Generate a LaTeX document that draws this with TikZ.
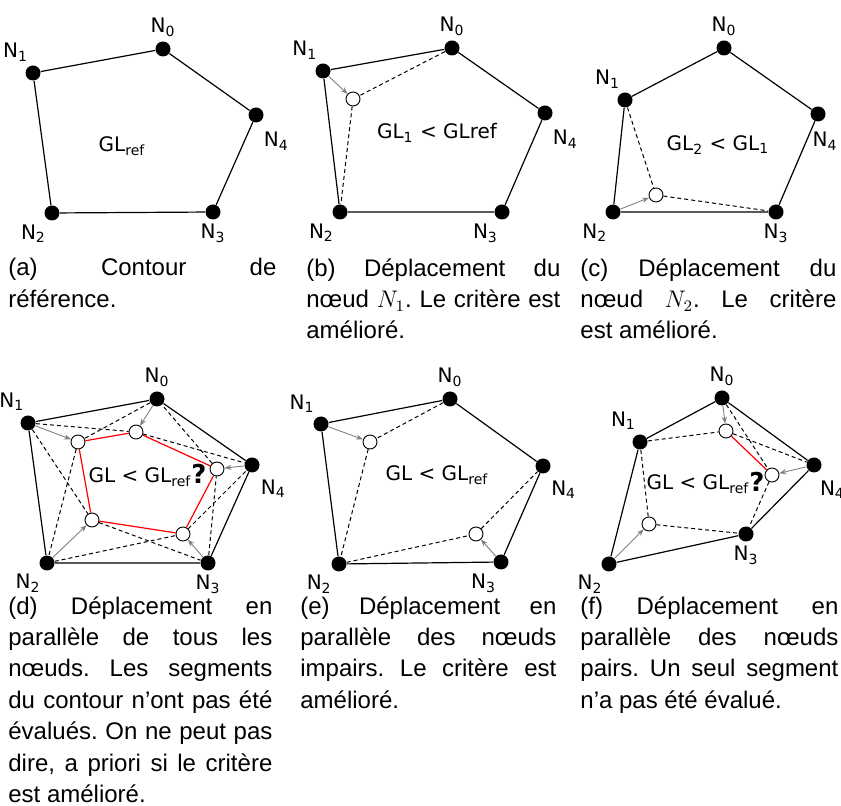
\documentclass[tikz,border=0pt]{standalone}
\usepackage{fontspec}
\setmainfont{Liberation Sans}
\newfontfamily\labelfont{DejaVu Sans}
\usetikzlibrary{arrows.meta,positioning}

\newcommand{\nd}[1]{N\textsubscript{#1}}
\newcommand{\captsize}{\fontsize{12}{15.7}\selectfont\frenchspacing}

\tikzset{
  dot/.style={circle, fill=black, minimum size=7.5pt, inner sep=0pt},
  hole/.style={circle, draw, fill=white, minimum size=7pt, inner sep=0pt, line width=0.45pt},
  lbl/.style={font=\labelfont\fontsize{10}{12}\selectfont, inner sep=1pt},
  quest/.style={font=\labelfont\bfseries\fontsize{13}{14}\selectfont, inner sep=0pt},
  contour/.style={line width=0.6pt},
  trial/.style={line width=0.5pt, dash pattern=on 2pt off 1.5pt},
  redseg/.style={line width=0.6pt, red},
  move/.style={gray, line width=0.45pt, -{Stealth[length=3.5pt,width=2.6pt]}},
  capt/.style={font=\captsize, align=justify, anchor=north west, inner sep=0pt},
  label distance=1pt
}

\begin{document}
\begin{tikzpicture}[x=0.5pt, y=-0.5pt]
  \useasboundingbox (0,0) rectangle (841,806);

  % (a) contour de reference
  \node[dot, label={[lbl]90:\nd{0}}] (a0) at (163,49) {};
  \node[dot, label={[lbl]105:\nd{1}}] (a1) at (33,73) {};
  \node[dot, label={[lbl]248:\nd{2}}] (a2) at (52,213) {};
  \node[dot, label={[lbl]270:\nd{3}}] (a3) at (213,212) {};
  \node[dot, label={[lbl,label distance=4pt]-70:\nd{4}}] (a4) at (256,115) {};
  \draw[contour] (a0) -- (a1) -- (a2) -- (a3) -- (a4) -- (a0);
  \node[lbl] (aGL) at (122,146) {GL\textsubscript{ref}};

  % (b) deplacement de N1
  \node[dot, label={[lbl]90:\nd{0}}] (b0) at (452,48) {};
  \node[dot, label={[lbl]110:\nd{1}}] (b1) at (323,71) {};
  \node[dot, label={[lbl]248:\nd{2}}] (b2) at (340,212) {};
  \node[dot, label={[lbl]260:\nd{3}}] (b3) at (502,212) {};
  \node[dot, label={[lbl,label distance=4pt]-70:\nd{4}}] (b4) at (545,113) {};
  \node[hole] (bm1) at (353,99) {};
  \draw[contour] (b0) -- (b1) -- (b2) -- (b3) -- (b4) -- (b0);
  \draw[trial] (b0) -- (bm1) -- (b2);
  \draw[move] (b1) -- (bm1);
  \node[lbl] (bGL) at (437,133) {GL\textsubscript{1} < GLref};

  % (c) deplacement de N2
  \node[dot, label={[lbl]90:\nd{0}}] (c0) at (724,48) {};
  \node[dot, label={[lbl]105:\nd{1}}] (c1) at (625,100) {};
  \node[dot, label={[lbl]250:\nd{2}}] (c2) at (613,212) {};
  \node[dot, label={[lbl]270:\nd{3}}] (c3) at (776,212) {};
  \node[dot, label={[lbl,label distance=4pt,xshift=3.5pt]below:\nd{4}}] (c4) at (818,114) {};
  \node[hole] (cm2) at (656,195) {};
  \draw[contour] (c0) -- (c1) -- (c2) -- (c3) -- (c4) -- (c0);
  \draw[trial] (c1) -- (cm2) -- (c3);
  \draw[move] (c2) -- (cm2);
  \node[lbl] (cGL) at (718,145) {GL\textsubscript{2} < GL\textsubscript{1}};

  % (d) tous les noeuds en parallele
  \node[dot, label={[lbl]90:\nd{0}}] (d0) at (157,399) {};
  \node[dot, label={[lbl]98:\nd{1}}] (d1) at (28,423) {};
  \node[dot, label={[lbl]245:\nd{2}}] (d2) at (47,563) {};
  \node[dot, label={[lbl]270:\nd{3}}] (d3) at (208,563) {};
  \node[dot, label={[lbl,label distance=3pt]-62:\nd{4}}] (d4) at (252,465) {};
  \node[hole] (dm0) at (136,432) {};
  \node[hole] (dm1) at (78,442) {};
  \node[hole] (dm2) at (92,520) {};
  \node[hole] (dm3) at (183,534) {};
  \node[hole] (dm4) at (217,469) {};
  \draw[contour] (d0) -- (d1) -- (d2) -- (d3) -- (d4) -- (d0);
  \foreach \i/\p/\n in {0/1/4, 1/0/2, 2/1/3, 3/2/4, 4/3/0} {
    \draw[trial] (d\p) -- (dm\i) -- (d\n);
    \draw[move] (d\i) -- (dm\i);
  }
  \draw[redseg] (dm0) -- (dm1) -- (dm2) -- (dm3) -- (dm4) -- (dm0);
  \node[lbl] (dGL) at (140,477) {GL < GL\textsubscript{ref}};
  \node[quest] (dq) at (199,474) {?};

  % (e) noeuds impairs
  \node[dot, label={[lbl]90:\nd{0}}] (e0) at (450,399) {};
  \node[dot, label={[lbl]115:\nd{1}}] (e1) at (321,424) {};
  \node[dot, label={[lbl]240:\nd{2}}] (e2) at (339,564) {};
  \node[dot, label={[lbl]255:\nd{3}}] (e3) at (501,562) {};
  \node[dot, label={[lbl,label distance=3pt]-65:\nd{4}}] (e4) at (543,466) {};
  \node[hole] (em1) at (370,442) {};
  \node[hole] (em3) at (476,534) {};
  \draw[contour] (e0) -- (e1) -- (e2) -- (e3) -- (e4) -- (e0);
  \draw[trial] (e0) -- (em1) -- (e2);
  \draw[trial] (e2) -- (em3) -- (e4);
  \draw[move] (e1) -- (em1);
  \draw[move] (e3) -- (em3);
  \node[lbl] (eGL) at (437,475) {GL < GL\textsubscript{ref}};

  % (f) noeuds pairs
  \node[dot, label={[lbl]90:\nd{0}}] (f0) at (722,398) {};
  \node[dot, label={[lbl]100:\nd{1}}] (f1) at (640,442) {};
  \node[dot, label={[lbl]245:\nd{2}}] (f2) at (609,564) {};
  \node[dot, label={[lbl]270:\nd{3}}] (f3) at (746,534) {};
  \node[dot, label={[lbl,label distance=3pt]-75:\nd{4}}] (f4) at (814,465) {};
  \node[hole] (fm0) at (726,431) {};
  \node[hole] (fm2) at (649,524) {};
  \node[hole] (fm4) at (772,475) {};
  \draw[contour] (f0) -- (f1) -- (f2) -- (f3) -- (f4) -- (f0);
  \draw[trial] (f1) -- (fm0) -- (f4);
  \draw[trial] (f0) -- (fm4) -- (f3);
  \draw[trial] (f1) -- (fm2) -- (f3);
  \foreach \i in {0,2,4}
    \draw[move] (f\i) -- (fm\i);
  \draw[redseg] (fm0) -- (fm4);
  \node[lbl] (fGL) at (698,484) {GL < GL\textsubscript{ref}};
  \node[quest] (fq) at (757,482) {?};

  % legendes
  \node[capt, text width=134pt] (capa) at (8,258)
    {(a) Contour de\linebreak référence.};
  \node[capt, text width=127pt] (capb) at (306,258)
    {(b) Déplacement du\linebreak nœud $N_1$. Le critère est\linebreak amélioré.};
  \node[capt, text width=128pt] (capc) at (580,258)
    {(c) Déplacement du\linebreak nœud $N_2$. Le critère\linebreak est amélioré.};
  \node[capt, text width=132pt] (capd) at (8,596)
    {(d) Déplacement en\linebreak parallèle de tous les\linebreak nœuds. Les segments\linebreak
     du contour n’ont pas été\linebreak évalués. On ne peut pas\linebreak
     dire, a priori si le critère\linebreak est amélioré.};
  \node[capt, text width=128pt] (cape) at (300,596)
    {(e) Déplacement en\linebreak parallèle des nœuds\linebreak impairs. Le critère est\linebreak amélioré.};
  \node[capt, text width=129pt] (capf) at (580,596)
    {(f) Déplacement en\linebreak parallèle des nœuds\linebreak pairs. Un seul segment\linebreak n’a pas été évalué.};
\end{tikzpicture}
\end{document}
